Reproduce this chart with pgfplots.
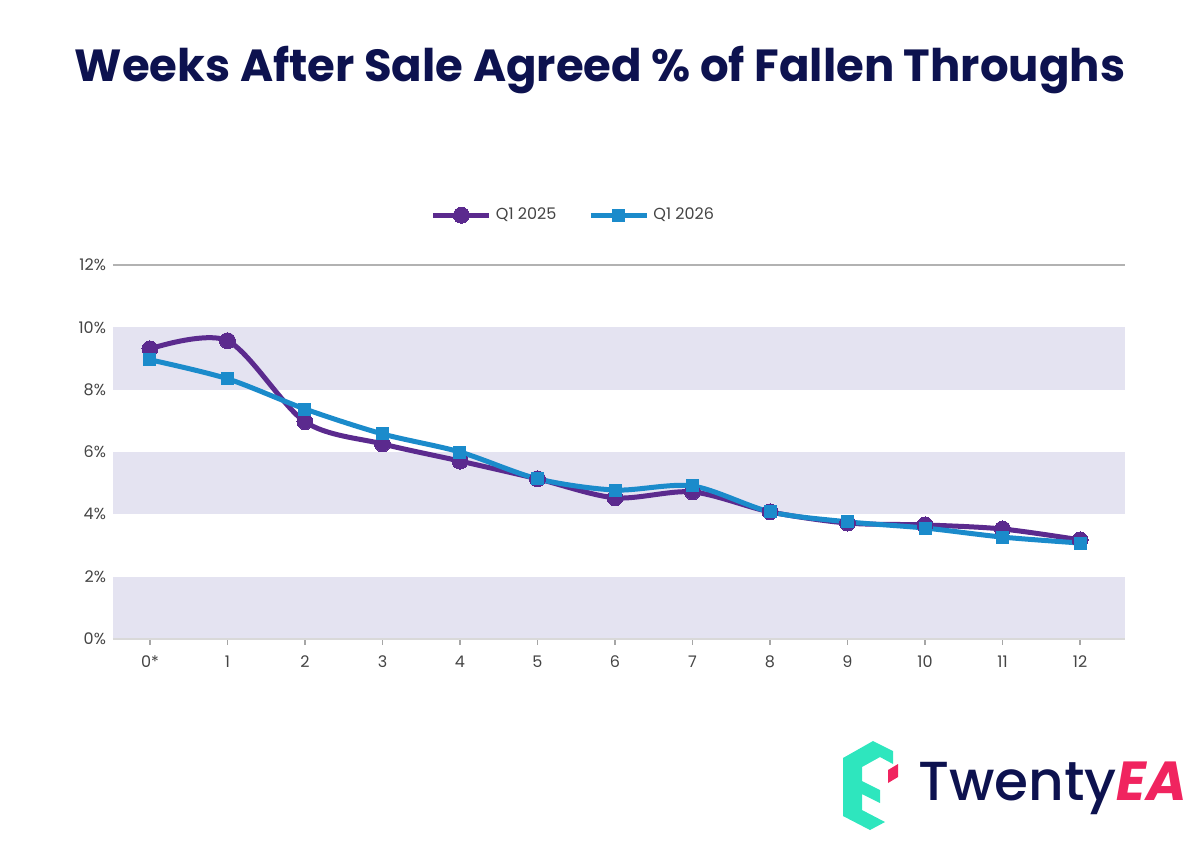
\documentclass[border=0pt]{standalone}
\usepackage{pgfplots}
\pgfplotsset{compat=1.18}
\usepackage{fontspec}
\setmainfont{Poppins}
\newfontfamily\popmed{Poppins Medium}
\definecolor{cpurple}{HTML}{5B2A8E}
\definecolor{cblue}{HTML}{1B8BCB}
\definecolor{cband}{HTML}{E4E3F1}
\definecolor{cnavy}{HTML}{0D124F}
\definecolor{cteal}{HTML}{2EE6BE}
\definecolor{cpink}{HTML}{F0245F}
\definecolor{ctick}{HTML}{444444}
\pgfplotstableread{
x y
0 9.31
1 9.57
2 6.97
3 6.26
4 5.71
5 5.14
6 4.53
7 4.72
8 4.08
9 3.72
10 3.66
11 3.53
12 3.18
}\qa
\pgfplotstableread{
x y
0 8.96
1 8.35
2 7.38
3 6.58
4 6.00
5 5.14
6 4.78
7 4.91
8 4.08
9 3.76
10 3.56
11 3.27
12 3.08
}\qb
\begin{document}
\begin{tikzpicture}[x=0.5pt,y=-0.5pt]
\path[use as bounding box] (0,0) rectangle (1200,848);
\node[font=\fontsize{22.5}{27}\selectfont\bfseries, text=cnavy] at (600,70) {Weeks After Sale Agreed \% of Fallen Throughs};
\begin{axis}[at={(56.5pt,-319.5pt)}, anchor=south west, scale only axis,
  width=506pt, height=187pt,
  xmin=-0.477, xmax=12.58, ymin=0, ymax=12,
  axis line style={draw=none},
  xtick={0,...,12}, xticklabels={0*,1,2,3,4,5,6,7,8,9,10,11,12},
  ytick={0,2,...,12}, yticklabels={0\%,2\%,4\%,6\%,8\%,10\%,12\%},
  xtick pos=lower, ytick pos=left,
  tick align=outside, major tick length=3pt,
  xtick style={draw=black!35, line width=0.6pt},
  ytick style={draw=none},
  ticklabel style={font=\fontsize{8}{10}\selectfont, text=ctick},
  xticklabel style={yshift=-2pt},
  yticklabel style={xshift=3pt},
  legend style={at={(0.456,1)}, anchor=south, yshift=17pt, draw=none, fill=none,
    legend columns=2, font=\fontsize{8}{10}\selectfont, text=ctick,
    /tikz/every even column/.append style={column sep=14pt}},
  legend image code/.code={\draw[#1] (0pt,0pt) -- (28pt,0pt); \draw[#1, mark repeat=1] plot coordinates {(14pt,0pt)};},
  clip=false,
]
\fill[cband] (axis cs:-0.477,8) rectangle (axis cs:12.58,10);
\fill[cband] (axis cs:-0.477,4) rectangle (axis cs:12.58,6);
\fill[cband] (axis cs:-0.477,0) rectangle (axis cs:12.58,2);
\draw[black!30, line width=0.7pt] (axis cs:-0.477,12) -- (axis cs:12.58,12);
\draw[black!15, line width=0.7pt] (axis cs:-0.477,0) -- (axis cs:12.58,0);
\addplot[color=cpurple, line width=2.5pt, smooth, mark=*, mark size=4pt, mark options={fill=cpurple, draw=cpurple, line width=0pt}] table[x=x,y=y] {\qa};
\addlegendentry{Q1 2025}
\addplot[color=cblue, line width=2.5pt, smooth, mark=square*, mark size=3pt, mark options={fill=cblue, draw=cblue, line width=0pt}] table[x=x,y=y] {\qb};
\addlegendentry{Q1 2026}
\end{axis}
% logo
\fill[cteal] (843,758) -- (873,741) -- (893,751) -- (893,764) -- (880,757) -- (862,767) -- (862,781) -- (880,790) -- (880,803) -- (862,794) -- (862,810) -- (885,822) -- (870,830) -- (843,816) -- cycle;
\fill[cpink] (888,770) -- (898,764) -- (898,777) -- (888,783) -- cycle;
\node[anchor=base west, inner sep=0pt, font=\fontsize{27.5}{30}\selectfont\popmed, text=cnavy] at (918,800) {Twenty\textcolor{cpink}{\fontspec{Poppins}\bfseries\itshape EA}};
\end{tikzpicture}
\end{document}
